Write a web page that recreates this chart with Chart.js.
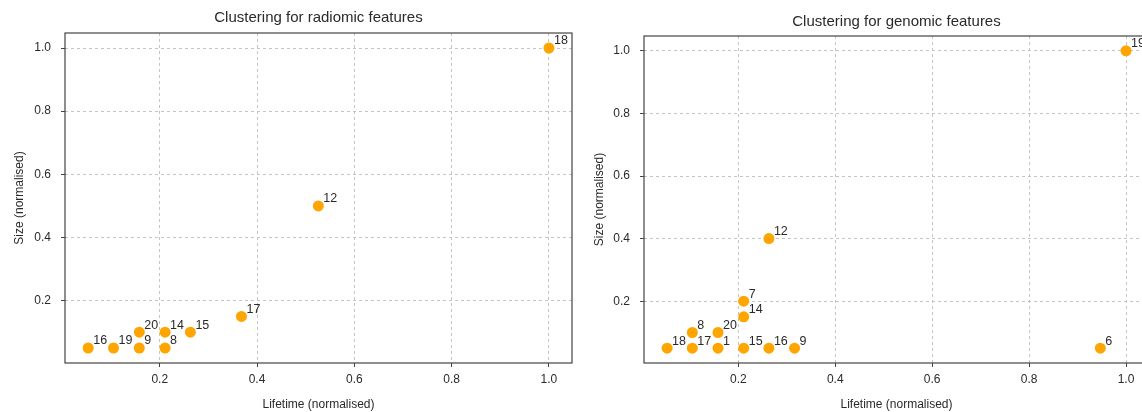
<!DOCTYPE html>
<html>
<head>
<meta charset="utf-8">
<script src="https://cdn.jsdelivr.net/npm/chart.js@4"></script>
<style>
html, body { margin: 0; padding: 0; background: #fff; overflow: hidden; width: 1142px; height: 412px; }
.panel { position: absolute; top: 0; width: 580px; height: 412px; }
</style>
</head>
<body>
<div class="panel" style="left:0"><canvas id="radiomic"></canvas></div>
<div class="panel" style="left:580px"><canvas id="genomic"></canvas></div>
<script>
const xTicks = [0.2, 0.4, 0.6, 0.8, 1.0];
const yTicks = [0.2, 0.4, 0.6, 0.8, 1.0];

const radiomicLabels   = ['16', '19', '9', '20', '8', '14', '15', '17', '12', '18'];
const radiomicLifetime = [0.053, 0.105, 0.158, 0.158, 0.211, 0.211, 0.263, 0.368, 0.526, 1.0];
const radiomicSize     = [0.05, 0.05, 0.05, 0.10, 0.05, 0.10, 0.10, 0.15, 0.50, 1.0];

const genomicLabels   = ['18', '17', '8', '1', '20', '15', '14', '7', '16', '12', '9', '6', '19'];
const genomicLifetime = [0.053, 0.105, 0.105, 0.158, 0.158, 0.211, 0.211, 0.211, 0.263, 0.263, 0.316, 0.947, 1.0];
const genomicSize     = [0.05, 0.05, 0.10, 0.05, 0.10, 0.05, 0.15, 0.20, 0.05, 0.40, 0.05, 0.05, 1.0];

const FONT = '"Liberation Sans", "DejaVu Sans", sans-serif';
const TEXT = '#2a2a2a';

// frame, title and point numbers
const extras = {
    id: 'extras',
    afterDatasetsDraw(chart, args, opts) {
        const { ctx, chartArea: a } = chart;
        ctx.save();
        ctx.strokeStyle = '#444';
        ctx.lineWidth = 1.2;
        ctx.strokeRect(a.left, a.top, a.right - a.left, a.bottom - a.top);

        ctx.fillStyle = TEXT;
        ctx.font = '15px ' + FONT;
        ctx.textAlign = 'center';
        ctx.textBaseline = 'middle';
        ctx.fillText(opts.title, (a.left + a.right) / 2, a.top - opts.titleGap);

        ctx.font = '12.5px ' + FONT;
        ctx.textAlign = 'left';
        const meta = chart.getDatasetMeta(0);
        meta.data.forEach((pt, i) => {
            ctx.fillText(opts.labels[i], pt.x + 5, pt.y - 7);
        });
        ctx.restore();
    }
};

function makeChart(id, title, labels, xs, ys, pad, yWidth, titleGap) {
    const points = xs.map((x, i) => ({ x: x, y: ys[i] }));
    return new Chart(document.getElementById(id), {
        type: 'scatter',
        data: {
            datasets: [{
                data: points,
                backgroundColor: '#FFA500',
                borderWidth: 0,
                pointRadius: 5.5,
                pointHoverRadius: 5.5,
                clip: false
            }]
        },
        options: {
            responsive: true,
            maintainAspectRatio: false,
            animation: false,
            layout: { padding: pad },
            plugins: {
                legend: { display: false },
                tooltip: { enabled: false },
                extras: { title: title, labels: labels, titleGap: titleGap }
            },
            scales: {
                x: {
                    type: 'linear',
                    min: 0.0053,
                    max: 1.0474,
                    afterBuildTicks: s => { s.ticks = xTicks.map(v => ({ value: v })); },
                    afterFit: s => { s.height = 49; },
                    ticks: {
                        color: TEXT,
                        font: { family: FONT, size: 12 },
                        padding: 5,
                        maxRotation: 0,
                        callback: v => v.toFixed(1)
                    },
                    grid: { color: '#c4c4c4', tickColor: '#444', tickLength: 4, tickBorderDash: [] },
                    border: { display: false, dash: [3, 3] },
                    title: { display: true, text: 'Lifetime (normalised)', color: TEXT,
                             font: { family: FONT, size: 12 }, padding: { top: 0, bottom: 0 } }
                },
                y: {
                    type: 'linear',
                    min: 0.0025,
                    max: 1.0475,
                    afterBuildTicks: s => { s.ticks = yTicks.map(v => ({ value: v })); },
                    afterFit: s => { s.width = yWidth; },
                    ticks: {
                        color: TEXT,
                        font: { family: FONT, size: 12 },
                        padding: 10,
                        callback: v => v.toFixed(1)
                    },
                    grid: { color: '#c4c4c4', tickColor: '#444', tickLength: 4, tickBorderDash: [] },
                    border: { display: false, dash: [3, 3] },
                    title: { display: true, text: 'Size (normalised)', color: TEXT,
                             font: { family: FONT, size: 12 }, padding: { top: 12, bottom: 0 } }
                }
            }
        },
        plugins: [extras]
    });
}

makeChart('radiomic', 'Clustering for radiomic features',
    radiomicLabels, radiomicLifetime, radiomicSize,
    { top: 33, right: 8, left: 0, bottom: 0 }, 65, 15);
makeChart('genomic', 'Clustering for genomic features',
    genomicLabels, genomicLifetime, genomicSize,
    { top: 36, right: 11, left: 0, bottom: 0 }, 64, 14);
</script>
</body>
</html>
